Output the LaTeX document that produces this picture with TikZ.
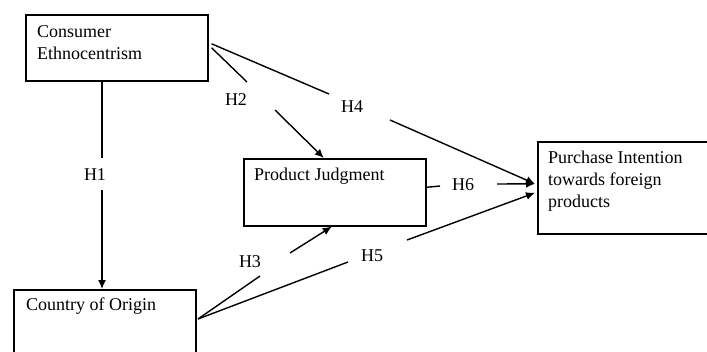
\documentclass[tikz,border=0pt]{standalone}
\usepackage{fontspec}
\setmainfont{Liberation Serif}
\usetikzlibrary{arrows.meta}

\begin{document}
\begin{tikzpicture}[x=1pt,y=-1pt,
    font=\fontsize{18}{22}\selectfont,
    box/.style={draw,line width=1.6pt,anchor=north west,inner sep=0pt},
    txt/.style={anchor=north west,align=left,inner sep=0pt},
    hyp/.style={inner sep=0pt},
    link/.style={line width=1.4pt},
    arr/.style={line width=1.4pt,-{Latex[length=9pt,width=8pt]}}]
    \useasboundingbox (0,0) rectangle (707,351);

    % boxes
    \node[box,minimum width=182pt,minimum height=66pt] (ce) at (25,14) {};
    \node[box,minimum width=182pt,minimum height=67pt] (pj) at (243,158) {};
    \node[box,minimum width=171pt,minimum height=92pt] (pi) at (537,141) {};
    \node[box,minimum width=182pt,minimum height=90pt] (co) at (13,289) {};

    \node[txt] (ce text) at (37,25) {Consumer\\Ethnocentrism};
    \node[txt] (pj text) at (254,168) {Product Judgment};
    \node[txt] (pi text) at (548,151) {Purchase Intention\\towards foreign\\products};
    \node[txt] (co text) at (26,298) {Country of Origin};

    % hypotheses
    \node[hyp] (h1) at (95,175) {H1};
    \node[hyp] (h2) at (236,100) {H2};
    \node[hyp] (h3) at (250,262) {H3};
    \node[hyp] (h4) at (352,107) {H4};
    \node[hyp] (h5) at (372,256) {H5};
    \node[hyp] (h6) at (463,185) {H6};

    \coordinate (h1a) at (102,158);
    \coordinate (h1b) at (102,190);
    \coordinate (h2a) at (247,82);
    \coordinate (h2b) at (275,110);
    \coordinate (h3a) at (260,276);
    \coordinate (h3b) at (290,253);
    \coordinate (h4a) at (329,94);
    \coordinate (h4b) at (390,120);
    \coordinate (h5a) at (348,262);
    \coordinate (h5b) at (407,240);
    \coordinate (h6a) at (440,186);
    \coordinate (h6b) at (497,184);
    \coordinate (co out) at (198,319);

    \draw[link] (ce.south -| h1a) -- (h1a);
    \draw[arr] (h1b) -- (h1b |- co.north);
    \draw[link] ([xshift=3pt]ce.east) -- (h2a);
    \draw[arr] (h2b) -- ([xshift=-11pt]pj.north);
    \draw[link] ([xshift=3pt,yshift=4pt]ce.east) -- (h4a);
    \draw[arr] (h4b) -- ([xshift=-2pt,yshift=4pt]pi.west);
    \draw[link] ([yshift=5pt]pj.east) -- (h6a);
    \draw[arr] (h6b) -- ([xshift=-2pt,yshift=4pt]pi.west);
    \draw[link] (co out) -- (h3a);
    \draw[arr] (h3b) -- ([xshift=-3pt]pj.south);
    \draw[link] (co out) -- (h5a);
    \draw[arr] (h5b) -- ([xshift=-2pt,yshift=-5pt]pi.west);
\end{tikzpicture}
\end{document}
